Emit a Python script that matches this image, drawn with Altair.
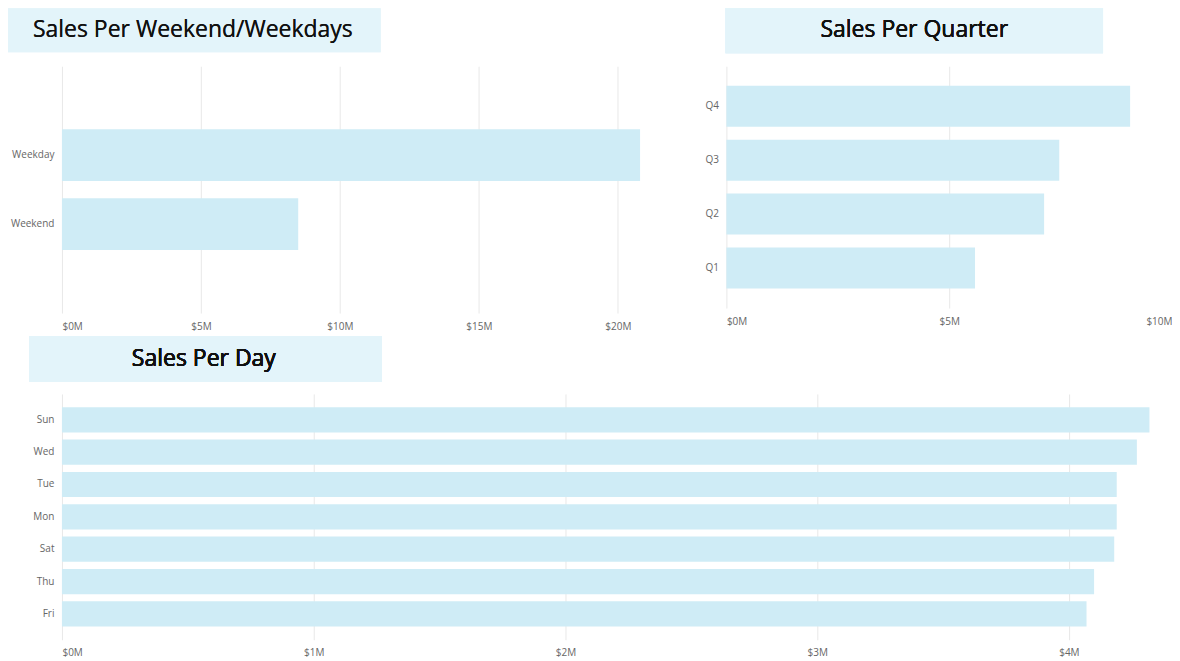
import altair as alt
import pandas as pd

week_types = ["Weekday", "Weekend"]
week_sales = [20.8, 8.5]

quarters = ["Q4", "Q3", "Q2", "Q1"]
quarter_sales = [9.06, 7.47, 7.13, 5.58]

days = ["Sun", "Wed", "Tue", "Mon", "Sat", "Thu", "Fri"]
day_sales = [4.32, 4.27, 4.19, 4.19, 4.18, 4.10, 4.07]

BAR = "#cfecf6"
BOX = "#e3f4fa"
FONT = "Open Sans"


def panel(cats, vals, field, title, width, height, domain, ticks,
          pad_inner, pad_outer, box, text_x, text_y):
    df = pd.DataFrame({field: cats, "sales": vals})
    bars = alt.Chart(df).mark_bar(color=BAR).encode(
        x=alt.X("sales:Q", title=None, scale=alt.Scale(domain=domain, nice=False),
                axis=alt.Axis(values=ticks, labelExpr="'$' + datum.value + 'M'",
                              grid=True, gridColor="#e8e8e8", domain=False,
                              ticks=False, labelColor="#666", labelFontSize=10,
                              labelFont=FONT, labelPadding=8)),
        y=alt.Y(f"{field}:N", title=None, sort=cats,
                scale=alt.Scale(paddingInner=pad_inner, paddingOuter=pad_outer),
                axis=alt.Axis(domain=False, ticks=False, labelColor="#666",
                              labelFontSize=10, labelFont=FONT, labelPadding=8)),
    )
    rect = alt.Chart(df).mark_rect(color=BOX).encode(
        x=alt.value(box[0]), x2=alt.value(box[1]),
        y=alt.value(box[2]), y2=alt.value(box[3]),
    )
    text = alt.Chart(df).mark_text(fontSize=23, font=FONT, color="#111").encode(
        x=alt.value(text_x), y=alt.value(text_y), text=alt.value(title),
    )
    return alt.layer(rect, text, bars).properties(width=width, height=height)


p1 = panel(week_types, week_sales, "type", "Sales Per Weekend/Weekdays",
           612, 247, [0, 22], [0, 5, 10, 15, 20], 0.25, 0.915,
           (-54, 319, -58, -14), 131, -36)
p2 = panel(quarters, quarter_sales, "quarter", "Sales Per Quarter",
           446, 242, [0, 10], [0, 5, 10], 0.24, 0.36,
           (-1, 377, -58, -13), 188, -36)
p3 = panel(days, day_sales, "day", "Sales Per Day",
           1096, 246, [0, 4.35], [0, 1, 2, 3, 4], 0.22, 0.41,
           (-33, 320, -58, -12), 142, -35)

top = alt.hconcat(p1, p2, spacing=31)
chart = alt.concat(top, p3, columns=1, align="none", spacing=5).properties(
    padding=0
).configure_view(stroke=None)

chart.save("out.html", embed_options={"renderer": "svg", "actions": False})
